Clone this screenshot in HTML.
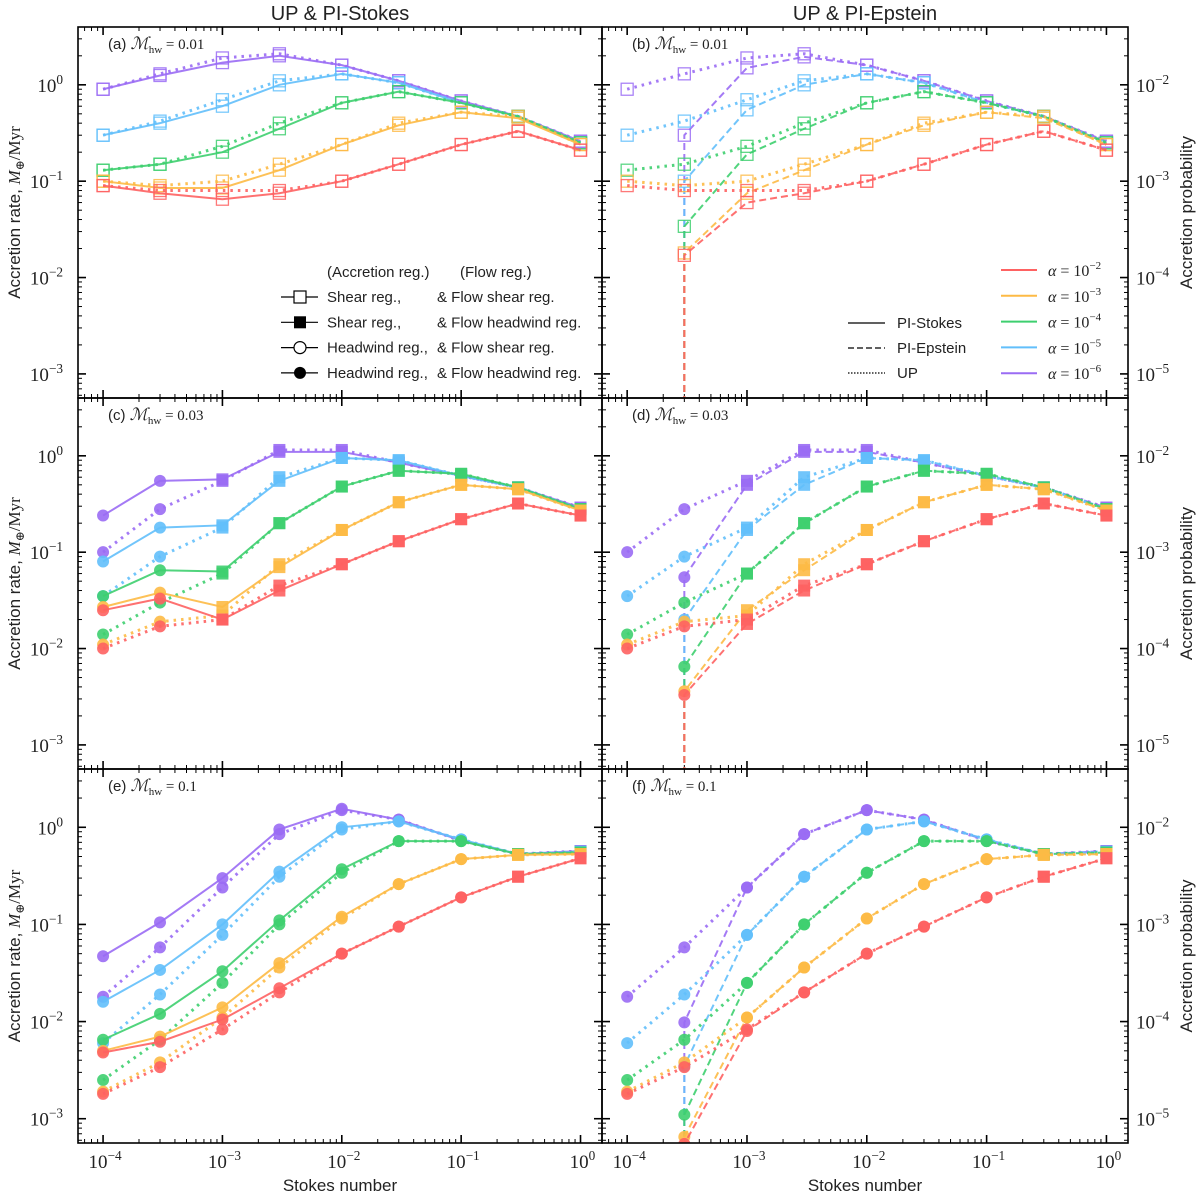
<!DOCTYPE html>
<html><head><meta charset="utf-8">
<style>
body{margin:0;background:#fff;}
svg text{font-family:"Liberation Sans","DejaVu Sans",sans-serif;fill:#222;}
.serif{font-family:"Liberation Serif","DejaVu Serif",serif;}
</style></head>
<body>
<svg id="chart" xmlns="http://www.w3.org/2000/svg" width="1200" height="1197" viewBox="0 0 1200 1197"></svg>
<script>
// ---- data ----
const stokes = [1e-4, 3e-4, 1e-3, 3e-3, 1e-2, 3e-2, 1e-1, 3e-1, 1];
const alphaLabels = ['-2','-3','-4','-5','-6'];
const colors = ['#fe6262','#fdba45','#3ecf6f','#62bffb','#9a6cf4'];
const xTickLabels = ['-4','-3','-2','-1','0'];
const yTickLeft = ['0','-1','-2','-3'];
const yTickRight = ['-2','-3','-4','-5'];
const rowLabels = ['0.01','0.03','0.1'];
// row a (Mhw=0.01)
const aStokes = [
 [0.09,0.075,0.065,0.075,0.1,0.15,0.24,0.33,0.21],
 [0.1,0.085,0.085,0.13,0.24,0.38,0.52,0.45,0.24],
 [0.13,0.15,0.2,0.35,0.65,0.85,0.65,0.47,0.25],
 [0.3,0.4,0.6,1.0,1.3,1.05,0.65,0.47,0.25],
 [0.9,1.25,1.7,2.0,1.6,1.1,0.68,0.47,0.26]];
const aUP = [
 [0.09,0.08,0.08,0.08,0.1,0.15,0.24,0.33,0.21],
 [0.1,0.09,0.1,0.15,0.24,0.4,0.52,0.47,0.24],
 [0.13,0.15,0.23,0.4,0.65,0.85,0.65,0.47,0.25],
 [0.3,0.42,0.7,1.1,1.3,1.05,0.65,0.47,0.25],
 [0.9,1.3,1.9,2.1,1.6,1.1,0.68,0.47,0.26]];
const aEpstein = [
 [null,0.017,0.06,0.075,0.1,0.15,0.24,0.33,0.21],
 [null,0.018,0.075,0.13,0.24,0.38,0.52,0.45,0.24],
 [null,0.034,0.19,0.35,0.65,0.85,0.65,0.47,0.25],
 [null,0.1,0.55,1.0,1.3,1.05,0.65,0.47,0.25],
 [null,0.3,1.5,1.95,1.6,1.1,0.68,0.47,0.26]];
// row c (Mhw=0.03)
const cStokes = [
 [0.025,0.033,0.02,0.04,0.075,0.13,0.22,0.32,0.24],
 [0.027,0.038,0.027,0.07,0.17,0.33,0.5,0.45,0.27],
 [0.035,0.065,0.063,0.2,0.48,0.7,0.65,0.47,0.28],
 [0.08,0.18,0.19,0.55,0.95,0.9,0.62,0.47,0.28],
 [0.24,0.55,0.57,1.1,1.1,0.85,0.62,0.47,0.29]];
const cUP = [
 [0.01,0.017,0.02,0.045,0.075,0.13,0.22,0.32,0.24],
 [0.011,0.019,0.022,0.075,0.17,0.33,0.5,0.45,0.27],
 [0.014,0.03,0.06,0.2,0.48,0.7,0.65,0.47,0.28],
 [0.035,0.09,0.18,0.6,0.95,0.9,0.62,0.47,0.28],
 [0.1,0.28,0.55,1.15,1.15,0.85,0.62,0.47,0.29]];
const cEpstein = [
 [null,0.0033,0.018,0.04,0.075,0.13,0.22,0.32,0.24],
 [null,0.0036,0.025,0.065,0.17,0.33,0.5,0.45,0.27],
 [null,0.0065,0.06,0.2,0.48,0.7,0.65,0.47,0.28],
 [null,0.02,0.17,0.5,0.95,0.9,0.62,0.47,0.28],
 [null,0.055,0.5,1.1,1.1,0.85,0.62,0.47,0.29]];
// row e (Mhw=0.1)
const eStokes = [
 [0.0048,0.0062,0.0105,0.022,0.05,0.095,0.19,0.31,0.48],
 [0.005,0.007,0.014,0.04,0.12,0.26,0.47,0.52,0.53],
 [0.0065,0.012,0.033,0.11,0.37,0.72,0.72,0.53,0.55],
 [0.016,0.034,0.1,0.35,1.0,1.15,0.75,0.53,0.56],
 [0.047,0.105,0.3,0.95,1.55,1.2,0.73,0.53,0.57]];
const eUP = [
 [0.0018,0.0034,0.0083,0.02,0.05,0.095,0.19,0.31,0.48],
 [0.0019,0.0038,0.011,0.036,0.115,0.26,0.47,0.52,0.53],
 [0.0025,0.0065,0.025,0.1,0.34,0.72,0.72,0.53,0.55],
 [0.006,0.019,0.078,0.31,0.95,1.15,0.75,0.53,0.56],
 [0.018,0.058,0.24,0.85,1.5,1.2,0.73,0.53,0.57]];
const eEpstein = [
 [null,0.00055,0.008,0.02,0.05,0.095,0.19,0.31,0.48],
 [null,0.00065,0.011,0.036,0.115,0.26,0.47,0.52,0.53],
 [null,0.0011,0.025,0.1,0.34,0.72,0.72,0.53,0.55],
 [null,0.0035,0.078,0.31,0.95,1.15,0.75,0.53,0.56],
 [null,0.0098,0.24,0.85,1.5,1.2,0.73,0.53,0.57]];
// marker kinds per row: os=open square, fs=filled square, fc=filled circle
const aMarkers = ['os','os','os','os','os','os','os','os','os'];
const cMarkers = ['fc','fc','fs','fs','fs','fs','fs','fs','fs'];
const eMarkers = ['fc','fc','fc','fc','fc','fc','fc','fs','fs'];

// ---- layout ----
const svg = document.getElementById('chart');
const NS = 'http://www.w3.org/2000/svg';
const cols = [{x0:78,x1:602},{x0:602,x1:1128}];
const rows = [{y0:27,y1:398},{y0:398,y1:769},{y0:769,y1:1143}];
const LMIN=-3.25, LMAX=0.6, XMIN=-4.21, XMAX=0.18;
function el(tag, attrs, parent){const e=document.createElementNS(NS,tag);for(const k in attrs)e.setAttribute(k,attrs[k]);(parent||svg).appendChild(e);return e;}
function xs(c,v){const C=cols[c];return C.x0+(Math.log10(v)-XMIN)/(XMAX-XMIN)*(C.x1-C.x0);}
function ys(r,v){const R=rows[r];return R.y0+(LMAX-Math.log10(v))/(LMAX-LMIN)*(R.y1-R.y0);}
function sup(parent,x,y,base,exp,anchor,size){
  const t=el('text',{x:x,y:y,'text-anchor':anchor,'font-size':size,class:'serif'},parent);
  t.appendChild(document.createTextNode(base));
  const s=el('tspan',{dy:-8,'font-size':size*0.7},t);s.textContent='−'.repeat(exp.startsWith('-')?1:0)+exp.replace('-','');
  return t;
}

// titles
let t=el('text',{x:340,y:20,'text-anchor':'middle','font-size':20});t.textContent='UP & PI-Stokes';

t=el('text',{x:865,y:20,'text-anchor':'middle','font-size':20});t.textContent='UP & PI-Epstein';


const rowData=[[aStokes,aUP,aEpstein,aMarkers],[cStokes,cUP,cEpstein,cMarkers],[eStokes,eUP,eEpstein,eMarkers]];
const letters=[['a','b'],['c','d'],['e','f']];

for(let r=0;r<3;r++){for(let c=0;c<2;c++){
  const R=rows[r],C=cols[c];
  const g=el('g',{});
  
  
  const clipId='clip'+r+c;
  const cp=el('clipPath',{id:clipId},g);el('rect',{x:C.x0,y:R.y0,width:C.x1-C.x0,height:R.y1-R.y0},cp);
  // ticks
  const tk=el('g',{stroke:'#000','stroke-width':1},g);
  
  for(let d=-5;d<=1;d++){for(let m=1;m<10;m++){
    const v=m*Math.pow(10,d);const lx=Math.log10(v);
    if(lx<XMIN||lx>XMAX)continue;const x=xs(c,v);const L=m==1?8:4;const w=m==1?1.6:1;
    el('line',{x1:x,y1:R.y1,x2:x,y2:R.y1-L,'stroke-width':w},tk);
    el('line',{x1:x,y1:R.y0,x2:x,y2:R.y0+L,'stroke-width':w},tk);
  }}
  for(let d=-4;d<=1;d++){for(let m=1;m<10;m++){
    const v=m*Math.pow(10,d);const ly=Math.log10(v);
    if(ly<LMIN||ly>LMAX)continue;const y=ys(r,v);const L=m==1?8:4;const w=m==1?1.6:1;
    el('line',{x1:C.x0,y1:y,x2:C.x0+L,y2:y,'stroke-width':w},tk);
    el('line',{x1:C.x1,y1:y,x2:C.x1-L,y2:y,'stroke-width':w},tk);
  }}
  // series
  const [st,up,ep,mk]=rowData[r];
  const main=c==0?st:ep;
  const plot=el('g',{'clip-path':'url(#'+clipId+')'},g);
  for(let a=4;a>=0;a--){
    const col=colors[a];
    // main line
    let d='';let started=false;
    for(let i=0;i<stokes.length;i++){
      const v=main[a][i];
      if(v==null){continue;}
      const x=xs(c,stokes[i]),y=ys(r,v);
      if(!started){ if(i>0&&main[a][i-1]==null){d+='M'+x+' '+(R.y1+5)+' L'+x+' '+y;} else d+='M'+x+' '+y; started=true;}
      else d+=' L'+x+' '+y;
    }
    const ln=el('path',{d:d,fill:'none',stroke:col,'stroke-width':2,'stroke-dasharray':c==0?'none':'7 4',opacity:0.9},plot);
    
    
    let d2='';
    for(let i=0;i<stokes.length;i++){d2+=(i?' L':'M')+xs(c,stokes[i])+' '+ys(r,up[a][i]);}
    const ln2=el('path',{d:d2,fill:'none',stroke:col,'stroke-width':3,'stroke-dasharray':'2.5 5',opacity:0.9},plot);
    
    
    for(const series of [main[a],up[a]]){
      for(let i=0;i<stokes.length;i++){
        const v=series[i];if(v==null)continue;
        const x=xs(c,stokes[i]),y=ys(r,v);const k=mk[i];let m;
        if(k=='os') m=el('rect',{x:x-6,y:y-6,width:12,height:12,fill:'none',stroke:col,'stroke-width':1.3,opacity:0.85},plot);
        else if(k=='fs') m=el('rect',{x:x-6,y:y-6,width:12,height:12,fill:col,opacity:0.9},plot);
        else m=el('circle',{cx:x,cy:y,r:6,fill:col,opacity:0.9},plot);
        
        
      }
    }
  }
  el('rect',{x:C.x0,y:R.y0,width:C.x1-C.x0,height:R.y1-R.y0,fill:'none',stroke:'#000','stroke-width':1.6},g);
  // panel label
  const pl=el('text',{x:C.x0+30,y:R.y0+22,'font-size':15},g);
  pl.textContent='('+letters[r][c]+') ';
  const ps=el('tspan',{class:'serif','font-style':'italic','font-size':17},pl);ps.textContent='ℳ';
  const ps2=el('tspan',{class:'serif','font-size':11,dy:4},pl);ps2.textContent='hw';
  const ps3=el('tspan',{class:'serif','font-size':15,dy:-4},pl);ps3.textContent=' = '+rowLabels[r];
  
  // y tick labels
  for(let k=0;k<4;k++){
    const y=ys(r,Math.pow(10,-k))+7;
    if(c==0){const tl=sup(g,63,y,'10',yTickLeft[k],'end',19);}
    else{const tl=sup(g,1136,y,'10',yTickRight[k],'start',19);}
  }
  if(r==2){for(let k=0;k<5;k++){
    const tl=sup(g,xs(c,Math.pow(10,k-4))+2,1168,'10',xTickLabels[k],'middle',19);
    
  }
  const xt=el('text',{x:(C.x0+C.x1)/2,y:1191,'text-anchor':'middle','font-size':17},g);xt.textContent='Stokes number';
  }
  // y axis titles
  const cy=(R.y0+R.y1)/2;
  if(c==0){const yt=el('text',{x:0,y:0,'text-anchor':'middle','font-size':17,transform:'translate(20,'+cy+') rotate(-90)'},g);
    yt.textContent='Accretion rate, ';const sp=el('tspan',{class:'serif','font-style':'italic'},yt);sp.textContent='M';
    const sb=el('tspan',{class:'serif','font-size':12,dy:4},yt);sb.textContent='⊕';const sr=el('tspan',{class:'serif',dy:-4},yt);sr.textContent='/Myr';
    }
  else{const yt=el('text',{x:0,y:0,'text-anchor':'middle','font-size':17,transform:'translate(1192,'+cy+') rotate(-90)'},g);
    yt.textContent='Accretion probability';}
}}

// legend panel a
const lg=el('g',{});
let lt=el('text',{x:327,y:277,'font-size':15},lg);lt.textContent='(Accretion reg.)';
lt=el('text',{x:460,y:277,'font-size':15},lg);lt.textContent='(Flow reg.)';
const legRows=[['os','Shear reg.,','& Flow shear reg.'],['fs','Shear reg.,','& Flow headwind reg.'],['oc','Headwind reg.,','& Flow shear reg.'],['fc','Headwind reg.,','& Flow headwind reg.']];
legRows.forEach((row,i)=>{const y=297+i*25.3;
  el('line',{x1:281,y1:y,x2:318,y2:y,stroke:'#000','stroke-width':1.2},lg);
  if(row[0]=='os')el('rect',{x:294,y:y-6,width:12,height:12,fill:'#fff',stroke:'#000','stroke-width':1.2},lg);
  if(row[0]=='fs')el('rect',{x:294,y:y-6,width:12,height:12,fill:'#000'},lg);
  if(row[0]=='oc')el('circle',{cx:300,cy:y,r:6,fill:'#fff',stroke:'#000','stroke-width':1.2},lg);
  if(row[0]=='fc')el('circle',{cx:300,cy:y,r:6,fill:'#000'},lg);
  let a=el('text',{x:327,y:y+5,'font-size':15},lg);a.textContent=row[1];
  a=el('text',{x:437,y:y+5,'font-size':15},lg);a.textContent=row[2];
});
// legend panel b
const lg2=el('g',{});
[['none','PI-Stokes'],['6 3','PI-Epstein'],['1.5 1.5','UP']].forEach((m,i)=>{const y=323+i*25;
  el('line',{x1:848,y1:y,x2:885,y2:y,stroke:'#000','stroke-width':1.3,'stroke-dasharray':m[0]},lg2);
  const a=el('text',{x:897,y:y+5,'font-size':15},lg2);a.textContent=m[1];});
const lg3=el('g',{});
alphaLabels.forEach((a,i)=>{const y=270+i*25.8;
  el('line',{x1:1001,y1:y,x2:1037,y2:y,stroke:colors[i],'stroke-width':2},lg3);
  const tx=el('text',{x:1048,y:y+6,'font-size':16,class:'serif'},lg3);
  const it=el('tspan',{'font-style':'italic'},tx);it.textContent='α';
  const r2=el('tspan',{},tx);r2.textContent=' = 10';
  const s=el('tspan',{dy:-7,'font-size':11},tx);s.textContent='−'+a.replace('-','');
});
</script>
</body></html>
